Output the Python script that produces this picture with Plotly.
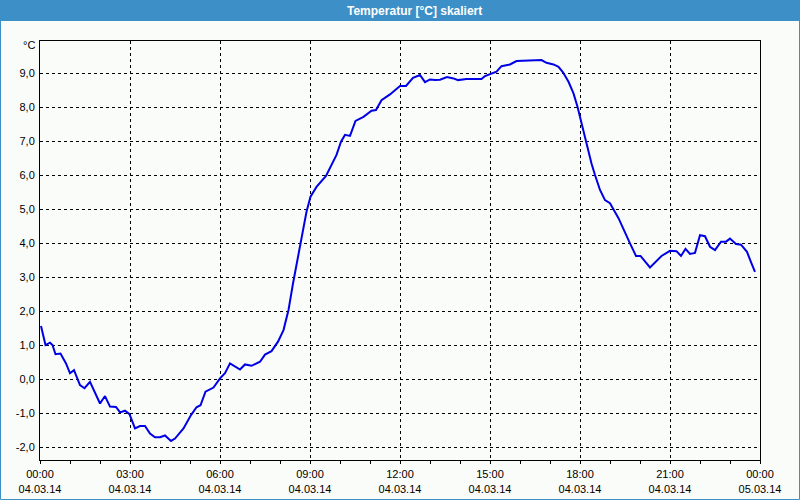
import plotly.graph_objects as go

# ---- data ----
times = ["00:02","00:11","00:20","00:25","00:31","00:41","00:52","01:00","01:08","01:20",
         "01:29","01:40","02:00","02:10","02:20","02:32","02:40","02:50","02:59","03:10",
         "03:20","03:30","03:40","03:50","04:00","04:10","04:22","04:30","04:47","05:02",
         "05:13","05:21","05:31","05:47","06:00","06:10","06:20","06:40","06:50","07:03",
         "07:20","07:30","07:43","07:56","08:07","08:17","08:26","08:37","08:46","08:53",
         "09:01","09:13","09:32","09:43","09:53","10:02","10:10","10:20","10:31","10:47",
         "11:03","11:12","11:23","11:40","12:00","12:12","12:26","12:40","12:50","13:00",
         "13:10","13:20","13:34","13:47","13:56","14:13","14:43","14:50","15:04","15:13",
         "15:23","15:40","15:53","16:13","16:43","16:53","17:07","17:17","17:26","17:37",
         "17:47","17:55","18:04","18:13","18:23","18:30","18:40","18:50","19:00","19:17",
         "19:30","19:40","19:52","20:01","20:20","20:43","21:00","21:13","21:22","21:31",
         "21:40","21:50","22:00","22:10","22:20","22:30","22:42","22:52","23:00","23:12",
         "23:22","23:34","23:43","23:50"]
temps = [1.57,1.01,1.08,1.01,0.74,0.76,0.47,0.18,0.27,-0.17,
         -0.26,-0.07,-0.71,-0.49,-0.80,-0.81,-0.97,-0.92,-1.02,-1.44,
         -1.37,-1.37,-1.59,-1.70,-1.70,-1.65,-1.81,-1.74,-1.44,-1.05,
         -0.82,-0.76,-0.36,-0.24,0.03,0.18,0.47,0.29,0.44,0.40,
         0.52,0.73,0.83,1.11,1.45,2.04,2.82,3.71,4.39,4.93,
         5.37,5.66,5.98,6.30,6.60,6.99,7.19,7.16,7.60,7.72,
         7.90,7.92,8.21,8.38,8.63,8.63,8.87,8.95,8.74,8.82,
         8.80,8.81,8.89,8.85,8.80,8.83,8.83,8.92,9.00,9.05,
         9.21,9.26,9.36,9.37,9.39,9.31,9.26,9.19,9.03,8.75,
         8.41,8.02,7.48,6.89,6.35,6.01,5.57,5.27,5.18,4.74,
         4.29,4.00,3.63,3.63,3.29,3.63,3.78,3.77,3.63,3.84,
         3.69,3.72,4.24,4.21,3.90,3.80,4.05,4.05,4.14,3.98,
         3.96,3.75,3.41,3.16]
day = "2014-03-04"
x_tick_vals = ["2014-03-04 00:00","2014-03-04 03:00","2014-03-04 06:00","2014-03-04 09:00",
               "2014-03-04 12:00","2014-03-04 15:00","2014-03-04 18:00","2014-03-04 21:00",
               "2014-03-05 00:00"]
x_tick_text = ["00:00<br>04.03.14","03:00<br>04.03.14","06:00<br>04.03.14","09:00<br>04.03.14",
               "12:00<br>04.03.14","15:00<br>04.03.14","18:00<br>04.03.14","21:00<br>04.03.14",
               "00:00<br>05.03.14"]
y_tick_vals = [-2, -1, 0, 1, 2, 3, 4, 5, 6, 7, 8, 9]
y_tick_text = ["-2,0","-1,0","0,0","1,0","2,0","3,0","4,0","5,0","6,0","7,0","8,0","9,0"]
title_text = "Temperatur [°C] skaliert"
unit_text = "°C"

# ---- figure ----
W, H = 800, 500
ML, MR, MT, MB = 40, 40, 41, 40
PW, PH = W - ML - MR, H - MT - MB

def px_x(p):
    return (p - ML) / PW

def px_y(p):
    return (H - MB - p) / PH

BLUE = "#3c8fc7"
BG = "#fafcfa"
FONT = "Liberation Sans"

fig = go.Figure()
fig.add_trace(go.Scatter(
    x=[f"{day} {t}" for t in times], y=temps, mode="lines",
    line=dict(color="#0000e6", width=2), hoverinfo="skip", showlegend=False))

fig.update_layout(
    width=W, height=H,
    margin=dict(l=ML, r=MR, t=MT, b=MB, pad=0, autoexpand=False),
    paper_bgcolor=BG, plot_bgcolor=BG,
    font=dict(family=FONT, size=11, color="#000000"),
    showlegend=False,
    xaxis=dict(
        type="date", range=["2014-03-04 00:00", "2014-03-05 00:00"],
        tickmode="array", tickvals=x_tick_vals, ticktext=x_tick_text,
        ticks="outside", ticklen=3, tickcolor="#000000", tickwidth=1,
        showline=True, linecolor="#000000", linewidth=1, mirror=True,
        showgrid=True, gridcolor="#000000", gridwidth=1, griddash="3px,3px",
        zeroline=False, fixedrange=True, automargin=False, ticklabelstandoff=1,
        minor=dict(dtick=3600000, ticks="outside", ticklen=3, tickcolor="#000000",
                   showgrid=False),
    ),
    yaxis=dict(
        range=[-2.37, 9.95],
        tickmode="array", tickvals=y_tick_vals, ticktext=y_tick_text,
        ticks="", showline=True, linecolor="#000000", linewidth=1, mirror=True,
        showgrid=True, gridcolor="#000000", gridwidth=1, griddash="3px,3px",
        zeroline=False, fixedrange=True, ticklabelstandoff=2, automargin=False,
    ),
    shapes=[
        dict(type="rect", xref="paper", yref="paper",
             x0=px_x(0), x1=px_x(W), y0=px_y(21), y1=px_y(0),
             fillcolor=BLUE, line=dict(width=0), layer="below"),
        dict(type="rect", xref="paper", yref="paper",
             x0=px_x(0.5), x1=px_x(W - 0.5), y0=px_y(H - 0.5), y1=px_y(0.5),
             fillcolor="rgba(0,0,0,0)", line=dict(color=BLUE, width=1), layer="above"),
    ],
    annotations=[
        dict(text="<b>" + title_text + "</b>", xref="paper", yref="paper",
             x=px_x(345), y=px_y(10.5), xanchor="left", yanchor="middle",
             showarrow=False, font=dict(family=FONT, size=12, color="#ffffff")),
        dict(text=unit_text, xref="paper", yref="paper",
             x=px_x(37), y=px_y(45), xanchor="right", yanchor="middle",
             showarrow=False, font=dict(family=FONT, size=11, color="#000000")),
    ],
)

fig.write_html("out.html")
